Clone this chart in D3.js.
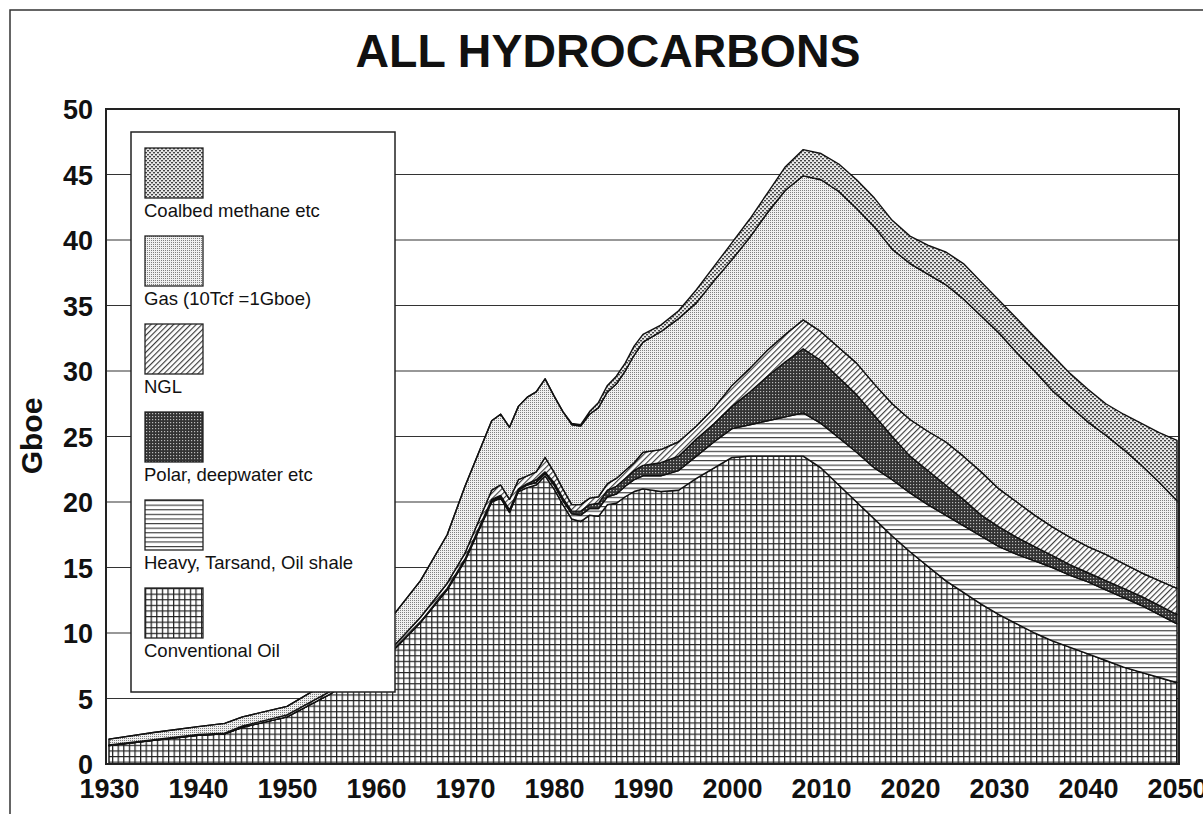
<!DOCTYPE html>
<html>
<head>
<meta charset="utf-8">
<script src="https://cdn.jsdelivr.net/npm/d3@7"></script>
<style>
  body { margin: 0; background: #fff; }
  svg text { font-family: "Liberation Sans", Arial, sans-serif; fill: #111; }
</style>
</head>
<body>
<div id="chart"></div>
<script>
// Data (Gboe per year)
var years = [1930, 1935, 1940, 1943, 1945, 1950, 1955, 1962, 1965, 1968, 1970, 1973, 1974, 1975, 1976, 1977, 1978, 1979,
             1980, 1981, 1982, 1983, 1984, 1985, 1986, 1987, 1988, 1989, 1990, 1992, 1994, 1996, 1998, 2000, 2002, 2004,
             2006, 2008, 2010, 2012, 2014, 2016, 2018, 2020, 2022, 2024, 2026, 2028, 2030, 2032, 2034, 2036, 2038, 2040,
             2042, 2044, 2046, 2048, 2050]
var conventionalOil = [1.4, 1.8, 2.2, 2.3, 2.8, 3.6, 5.4, 8.7, 10.8, 13.3, 15.5, 20.0, 20.3, 19.2, 20.8, 21.1, 21.3, 22.0,
                       21.0, 19.8, 18.7, 18.5, 19.0, 18.9, 19.8, 19.9, 20.4, 20.8, 21.0, 20.8, 20.9, 21.8, 22.6, 23.4, 23.5, 23.5,
                       23.5, 23.5, 22.6, 21.3, 20.0, 18.7, 17.4, 16.2, 15.1, 14.0, 13.1, 12.2, 11.4, 10.7, 10.0, 9.4, 8.9, 8.4,
                       7.9, 7.4, 7.0, 6.6, 6.2]
var heavyOil = [0, 0, 0, 0, 0, 0, 0, 0.05, 0.05, 0.05, 0.1, 0.1, 0.1, 0.1, 0.1, 0.2, 0.2, 0.2,
                0.3, 0.3, 0.4, 0.5, 0.5, 0.6, 0.6, 0.7, 0.8, 0.9, 1.0, 1.2, 1.5, 1.7, 2.0, 2.2, 2.4, 2.7,
                3.0, 3.3, 3.4, 3.6, 3.8, 3.9, 4.3, 4.5, 4.7, 5.0, 5.1, 5.2, 5.2, 5.3, 5.5, 5.6, 5.5, 5.5,
                5.4, 5.3, 5.1, 4.8, 4.5]
var polarDeep = [0, 0, 0, 0, 0, 0, 0, 0, 0, 0.05, 0.05, 0.1, 0.1, 0.1, 0.1, 0.1, 0.2, 0.1,
                 0.2, 0.2, 0.2, 0.3, 0.3, 0.4, 0.5, 0.6, 0.6, 0.7, 0.8, 1.0, 1.1, 1.3, 1.4, 1.7, 2.5, 3.4,
                 4.2, 4.9, 4.8, 4.6, 4.4, 4.0, 3.3, 2.8, 2.6, 2.3, 2.0, 1.6, 1.5, 1.3, 1.1, 0.9, 0.8, 0.7,
                 0.7, 0.7, 0.7, 0.7, 0.7]
var ngl = [0.05, 0.05, 0.05, 0.05, 0.1, 0.15, 0.2, 0.25, 0.35, 0.4, 0.45, 0.7, 0.8, 0.8, 0.7, 0.6, 0.6, 1.1,
           0.8, 0.7, 0.5, 0.5, 0.5, 0.5, 0.5, 0.6, 0.6, 0.6, 1.0, 1.0, 1.1, 1.0, 1.2, 1.6, 1.8, 2.0,
           2.1, 2.2, 2.2, 2.3, 2.4, 2.4, 2.5, 2.8, 3.0, 3.3, 3.3, 3.3, 2.9, 2.7, 2.4, 2.2, 2.1, 2.0,
           2.0, 1.9, 1.8, 1.9, 2.0]
var gas = [0.45, 0.55, 0.6, 0.75, 0.7, 0.65, 0.8, 2.4, 2.8, 3.7, 5.1, 5.3, 5.4, 5.5, 5.6, 6.0, 6.1, 6.0,
           5.8, 5.9, 6.1, 6.0, 6.4, 6.8, 7.0, 7.2, 7.6, 8.2, 8.4, 9.0, 9.4, 9.4, 9.7, 9.6, 10.0, 10.5,
           11.0, 11.0, 11.6, 11.9, 11.8, 12.0, 11.8, 11.9, 12.0, 12.0, 12.0, 11.9, 11.9, 11.4, 11.0, 10.4, 10.0, 9.5,
           9.1, 8.7, 8.2, 7.5, 6.7]
var coalbedMethane = [0, 0, 0, 0, 0, 0, 0, 0, 0, 0, 0, 0, 0, 0, 0, 0, 0, 0,
                      0, 0, 0.1, 0.1, 0.2, 0.4, 0.5, 0.6, 0.6, 0.7, 0.6, 0.5, 0.6, 1.0, 1.1, 1.3, 1.4, 1.5,
                      1.8, 2.0, 2.0, 2.1, 2.2, 2.2, 2.2, 2.1, 2.2, 2.5, 2.7, 2.6, 2.5, 2.6, 2.6, 2.7, 2.5, 2.5,
                      2.4, 2.7, 3.2, 3.8, 4.6]

var seriesKeys = ["conv", "heavy", "polar", "ngl", "gas", "cbm"]
var seriesNames = {
    cbm: "Coalbed methane etc",
    gas: "Gas (10Tcf =1Gboe)",
    ngl: "NGL",
    polar: "Polar, deepwater etc",
    heavy: "Heavy, Tarsand, Oil shale",
    conv: "Conventional Oil"
}
var legendOrder = ["cbm", "gas", "ngl", "polar", "heavy", "conv"]
var xTicks = d3.range(1930, 2051, 10)
var yTicks = d3.range(0, 51, 5)

// Building the table for the stack
var table = years.map((y, i) => ({
    year: y, conv: conventionalOil[i], heavy: heavyOil[i], polar: polarDeep[i],
    ngl: ngl[i], gas: gas[i], cbm: coalbedMethane[i]
}))
var stacked = d3.stack().keys(seriesKeys)(table)

var width = 1203
var height = 814

var svg = d3.select("#chart")
            .append("svg")
            .attr("width", width)
            .attr("height", height)

// Patterns (black & white print look)
var defs = svg.append("defs")

var pConv = defs.append("pattern").attr("id", "p-conv").attr("patternUnits", "userSpaceOnUse")
                .attr("width", 5.6).attr("height", 5.6)
pConv.append("rect").attr("width", 5.6).attr("height", 5.6).attr("fill", "#fff")
pConv.append("path").attr("d", "M0,0.6H5.6M0.6,0V5.6").attr("stroke", "#222").attr("stroke-width", 1.3)

var pHeavy = defs.append("pattern").attr("id", "p-heavy").attr("patternUnits", "userSpaceOnUse")
                 .attr("width", 10).attr("height", 4.6)
pHeavy.append("rect").attr("width", 10).attr("height", 4.6).attr("fill", "#fff")
pHeavy.append("path").attr("d", "M0,0.6H10").attr("stroke", "#333").attr("stroke-width", 1.1)

var pPolar = defs.append("pattern").attr("id", "p-polar").attr("patternUnits", "userSpaceOnUse")
                 .attr("width", 3).attr("height", 3)
pPolar.append("rect").attr("width", 3).attr("height", 3).attr("fill", "#333")
pPolar.append("rect").attr("x", 1).attr("y", 1).attr("width", 1.2).attr("height", 1.2).attr("fill", "#bbb")

var pNgl = defs.append("pattern").attr("id", "p-ngl").attr("patternUnits", "userSpaceOnUse")
               .attr("width", 4).attr("height", 4).attr("patternTransform", "rotate(45)")
pNgl.append("rect").attr("width", 4).attr("height", 4).attr("fill", "#fff")
pNgl.append("path").attr("d", "M0.6,0V4").attr("stroke", "#333").attr("stroke-width", 1.1)

var pGas = defs.append("pattern").attr("id", "p-gas").attr("patternUnits", "userSpaceOnUse")
               .attr("width", 2).attr("height", 2)
pGas.append("rect").attr("width", 2).attr("height", 2).attr("fill", "#f0f0f0")
pGas.append("rect").attr("width", 1).attr("height", 1).attr("fill", "#808080")

var pCbm = defs.append("pattern").attr("id", "p-cbm").attr("patternUnits", "userSpaceOnUse")
               .attr("width", 4).attr("height", 4)
pCbm.append("rect").attr("width", 4).attr("height", 4).attr("fill", "#e8e8e8")
pCbm.append("rect").attr("x", 0).attr("y", 0).attr("width", 2).attr("height", 1.4).attr("fill", "#444")
pCbm.append("rect").attr("x", 2).attr("y", 2).attr("width", 2).attr("height", 1.4).attr("fill", "#444")

var fills = { conv: "url(#p-conv)", heavy: "url(#p-heavy)", polar: "url(#p-polar)",
              ngl: "url(#p-ngl)", gas: "url(#p-gas)", cbm: "url(#p-cbm)" }

// Outer frame
svg.append("rect")
   .attr("x", 10).attr("y", 10)
   .attr("width", 1300).attr("height", 900)
   .attr("fill", "none").attr("stroke", "#333").attr("stroke-width", 1.5)

// Scales
var xScale = d3.scaleLinear().domain([1930, 2050]).range([109, 1177])
var yScale = d3.scaleLinear().domain([0, 50]).range([764, 109])

// Gridlines
svg.append("g")
   .selectAll("line")
   .data(yTicks.filter(t => t > 0 && t < 50))
   .enter()
   .append("line")
   .attr("x1", 106).attr("x2", 1179)
   .attr("y1", d => yScale(d)).attr("y2", d => yScale(d))
   .attr("stroke", "#333").attr("stroke-width", 1.2)

// Stacked areas
var area = d3.area()
             .x(d => xScale(d.data.year))
             .y0(d => yScale(d[0]))
             .y1(d => yScale(d[1]))

svg.append("g")
   .selectAll("path")
   .data(stacked)
   .enter()
   .append("path")
   .attr("d", area)
   .attr("fill", d => fills[d.key])
   .attr("stroke", "#111")
   .attr("stroke-width", 1.4)
   .attr("stroke-linejoin", "round")

// Plot frame
svg.append("rect")
   .attr("x", 106).attr("y", 109)
   .attr("width", 1179 - 106).attr("height", 764 - 109)
   .attr("fill", "none").attr("stroke", "#222").attr("stroke-width", 2)

// Axes
var yAxis = d3.axisLeft(yScale).tickValues(yTicks).tickSize(0).tickPadding(13)
var yG = svg.append("g").attr("transform", "translate(106,0)").call(yAxis)
yG.select(".domain").remove()
yG.selectAll("text").attr("font-size", 27).attr("font-weight", "bold").attr("dy", "0.36em")

var xAxis = d3.axisBottom(xScale).tickValues(xTicks).tickFormat(d3.format("d")).tickSize(0).tickPadding(15)
var xG = svg.append("g").attr("transform", "translate(0,764)").call(xAxis)
xG.select(".domain").remove()
xG.selectAll("text").attr("font-size", 27).attr("font-weight", "bold")

// Title and y label
svg.append("text")
   .attr("x", 608).attr("y", 67)
   .attr("text-anchor", "middle")
   .attr("font-size", 47).attr("font-weight", "bold")
   .attr("textLength", 505).attr("lengthAdjust", "spacingAndGlyphs")
   .text("ALL HYDROCARBONS")

svg.append("text")
   .attr("transform", "translate(42,436) rotate(-90)")
   .attr("text-anchor", "middle")
   .attr("font-size", 30).attr("font-weight", "bold")
   .text("Gboe")

// Legend
var legend = svg.append("g")
legend.append("rect")
      .attr("x", 131).attr("y", 132)
      .attr("width", 264).attr("height", 560)
      .attr("fill", "#fff").attr("stroke", "#222").attr("stroke-width", 1.5)

var items = legend.selectAll(".item")
                  .data(legendOrder)
                  .enter()
                  .append("g")
                  .attr("transform", (d, i) => "translate(145," + (148 + i * 88) + ")")
items.append("rect")
     .attr("width", 58).attr("height", 50)
     .attr("fill", d => fills[d])
     .attr("stroke", "#222").attr("stroke-width", 1.3)
items.append("text")
     .attr("x", -1).attr("y", 69)
     .attr("font-size", 18.5)
     .text(d => seriesNames[d])
</script>
</body>
</html>
